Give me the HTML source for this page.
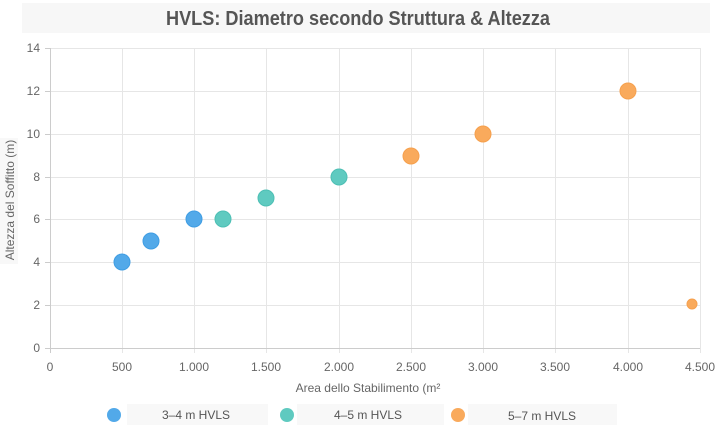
<!DOCTYPE html><html><head><style>body{margin:0;background:#fff;}svg{display:block;font-family:"Liberation Sans",sans-serif;}</style></head><body>
<svg width="719" height="433" xmlns="http://www.w3.org/2000/svg">
<rect x="22" y="3" width="688" height="30" fill="#f7f7f7"/>
<text x="166" y="25" textLength="384" lengthAdjust="spacingAndGlyphs" font-size="20" font-weight="bold" fill="#555">HVLS: Diametro secondo Struttura &amp; Altezza</text>
<rect x="0" y="138" width="18" height="126" fill="#f8f8f8"/>
<g stroke="#e6e6e6" stroke-width="1">
<line x1="50" y1="48.5" x2="700" y2="48.5"/><line x1="50" y1="91.5" x2="700" y2="91.5"/><line x1="50" y1="134.5" x2="700" y2="134.5"/><line x1="50" y1="177.5" x2="700" y2="177.5"/><line x1="50" y1="219.5" x2="700" y2="219.5"/><line x1="50" y1="262.5" x2="700" y2="262.5"/><line x1="50" y1="305.5" x2="700" y2="305.5"/>
<line x1="122.5" y1="48" x2="122.5" y2="353"/><line x1="194.5" y1="48" x2="194.5" y2="353"/><line x1="266.5" y1="48" x2="266.5" y2="353"/><line x1="339.5" y1="48" x2="339.5" y2="353"/><line x1="411.5" y1="48" x2="411.5" y2="353"/><line x1="483.5" y1="48" x2="483.5" y2="353"/><line x1="555.5" y1="48" x2="555.5" y2="353"/><line x1="628.5" y1="48" x2="628.5" y2="353"/><line x1="700.5" y1="48" x2="700.5" y2="353"/>
</g>
<g stroke="#ccc"><line x1="50.5" y1="48" x2="50.5" y2="353"/><line x1="45" y1="348.5" x2="700" y2="348.5"/>
<line x1="45" y1="48.5" x2="50" y2="48.5"/><line x1="45" y1="91.5" x2="50" y2="91.5"/><line x1="45" y1="134.5" x2="50" y2="134.5"/><line x1="45" y1="177.5" x2="50" y2="177.5"/><line x1="45" y1="219.5" x2="50" y2="219.5"/><line x1="45" y1="262.5" x2="50" y2="262.5"/><line x1="45" y1="305.5" x2="50" y2="305.5"/></g>
<g font-size="12" fill="#666" text-anchor="end">
<text x="40" y="52">14</text><text x="40" y="95">12</text><text x="40" y="138">10</text><text x="40" y="181">8</text><text x="40" y="223">6</text><text x="40" y="266">4</text><text x="40" y="309">2</text><text x="40" y="352">0</text></g>
<g font-size="12" fill="#666" text-anchor="middle">
<text x="50" y="371">0</text><text x="122" y="371">500</text><text x="194" y="371">1.000</text><text x="266" y="371">1.500</text><text x="339" y="371">2.000</text><text x="411" y="371">2.500</text><text x="483" y="371">3.000</text><text x="555" y="371">3.500</text><text x="628" y="371">4.000</text><text x="700" y="371">4.500</text>
<text x="368" y="392">Area dello Stabilimento (m²</text></g>
<text transform="translate(14,200) rotate(-90)" font-size="12" fill="#666" text-anchor="middle">Altezza del Soffitto (m)</text>
<g fill="#52a9e9" stroke="#3f9de3" stroke-width="1"><circle cx="122" cy="262" r="8"/><circle cx="151" cy="241" r="8"/><circle cx="194" cy="219" r="8"/></g>
<g fill="#5fcac0" stroke="#4dbfb4" stroke-width="1"><circle cx="223" cy="219" r="8"/><circle cx="266" cy="198" r="8"/><circle cx="339" cy="177" r="8"/></g>
<g fill="#f9aa5c" stroke="#f6a04d" stroke-width="1"><circle cx="411" cy="156" r="8"/><circle cx="483" cy="134" r="8"/><circle cx="628" cy="91" r="8"/><circle cx="692" cy="304" r="5"/></g>
<rect x="127" y="404" width="141" height="21" fill="#f8f8f8"/><rect x="297" y="404" width="147" height="21" fill="#f8f8f8"/><rect x="468" y="404" width="149" height="21" fill="#f8f8f8"/>
<circle cx="114" cy="415" r="7" fill="#52a9e9"/><circle cx="287" cy="415" r="7" fill="#5fcac0"/><circle cx="458" cy="415" r="7" fill="#f9aa5c"/>
<g font-size="12" fill="#555" text-anchor="middle"><text x="196" y="419">3–4 m HVLS</text><text x="368" y="419">4–5 m HVLS</text><text x="542" y="420">5–7 m HVLS</text></g>
</svg></body></html>
